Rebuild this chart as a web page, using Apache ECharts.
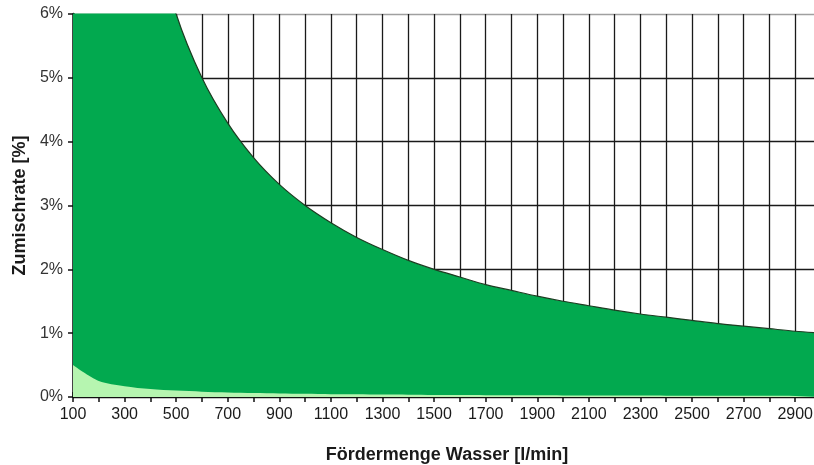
<!DOCTYPE html>
<html>
<head>
<meta charset="utf-8">
<script src="https://cdn.jsdelivr.net/npm/echarts@6/dist/echarts.min.js"></script>
<style>
	html, body { margin: 0; padding: 0; background: #fff; }
	#chart { width: 814px; height: 465px; }
</style>
</head>
<body>
<div id="chart"></div>
<script>
	// Fördermenge Wasser [l/min]
	var menge = [100, 200, 300, 400, 500, 600, 700, 800, 900, 1000, 1100, 1200, 1300, 1400, 1500,
		1600, 1700, 1800, 1900, 2000, 2100, 2200, 2300, 2400, 2500, 2600, 2700, 2800, 2900, 3000];
	// obere Grenze Zumischrate [%]
	var maxRate = [30, 15, 10, 7.5, 6, 5, 4.29, 3.75, 3.33, 3.0, 2.73, 2.5, 2.31, 2.14, 2.0,
		1.88, 1.76, 1.67, 1.58, 1.5, 1.43, 1.36, 1.3, 1.25, 1.2, 1.15, 1.11, 1.07, 1.03, 1.0];
	// untere Grenze Zumischrate [%]
	var minRate = [0.5, 0.25, 0.17, 0.125, 0.1, 0.083, 0.071, 0.063, 0.056, 0.05, 0.045, 0.042, 0.038, 0.036, 0.033,
		0.031, 0.029, 0.028, 0.026, 0.025, 0.024, 0.023, 0.022, 0.021, 0.02, 0.019, 0.019, 0.018, 0.017, 0.017];

	function pairs(xs, ys) {
		return xs.map(function (x, i) { return [x, ys[i]]; });
	}

	var chart = echarts.init(document.getElementById('chart'), null, { renderer: 'canvas' });
	var font = 'Liberation Sans';

	var option = {
		animation: false,
		// Diagramm ist rechts angeschnitten, 3000 liegt knapp ausserhalb
		grid: { left: 73, width: 748, top: 14, bottom: 68, outerBoundsMode: 'none', containLabel: false },
		xAxis: [{
			type: 'value',
			min: 100,
			max: 3000,
			interval: 100,
			name: 'Fördermenge Wasser [l/min]',
			nameLocation: 'middle',
			nameGap: 49,
			nameTextStyle: { fontFamily: font, fontWeight: 'bold', fontSize: 18, color: '#1a1a1a' },
			axisLine: { show: true, lineStyle: { color: '#111', width: 2 } },
			axisTick: { show: true, length: 5, lineStyle: { color: '#111', width: 1.5 } },
			axisLabel: {
				fontFamily: font, fontSize: 16, color: '#1a1a1a', margin: 10,
				formatter: function (v) { return ((v - 100) % 200 === 0 && v < 3000) ? String(v) : ''; }
			},
			splitLine: { show: true, lineStyle: { color: '#1a1a1a', width: 1.3 } }
		}, {
			// innere Teilstriche
			type: 'value',
			position: 'bottom',
			min: 100,
			max: 3000,
			interval: 100,
			axisLine: { show: false },
			axisTick: { show: true, inside: true, length: 5, lineStyle: { color: '#111', width: 1.5 } },
			axisLabel: { show: false },
			splitLine: { show: false }
		}],
		yAxis: {
			type: 'value',
			min: 0,
			max: 6,
			interval: 1,
			name: 'Zumischrate [%]',
			nameLocation: 'middle',
			nameGap: 42,
			nameRotate: 90,
			nameTextStyle: { fontFamily: font, fontWeight: 'bold', fontSize: 18, color: '#1a1a1a' },
			axisLine: { show: true, lineStyle: { color: '#111', width: 2.5 } },
			axisTick: { show: true, length: 5, lineStyle: { color: '#111', width: 1.5 } },
			axisLabel: {
				fontFamily: font, fontSize: 16, color: '#333', margin: 10,
				formatter: '{value}%'
			},
			splitLine: {
				show: true,
				lineStyle: {
					color: ['#1a1a1a', '#1a1a1a', '#1a1a1a', '#1a1a1a', '#1a1a1a', '#1a1a1a', '#a0a0a0'],
					width: 1.3
				}
			}
		},
		series: [{
			name: 'max',
			type: 'line',
			data: pairs(menge, maxRate),
			symbol: 'none',
			smooth: 0.3,
			clip: true,
			lineStyle: { color: '#1d3d22', width: 1.2 },
			areaStyle: { color: '#02a94f', opacity: 1 },
			z: 3
		}, {
			name: 'min',
			type: 'line',
			data: pairs(menge, minRate),
			symbol: 'none',
			smooth: 0.3,
			clip: true,
			lineStyle: { width: 0 },
			areaStyle: { color: '#b6f5b0', opacity: 1 },
			z: 4
		}]
	};

	chart.setOption(option);
</script>
</body>
</html>
